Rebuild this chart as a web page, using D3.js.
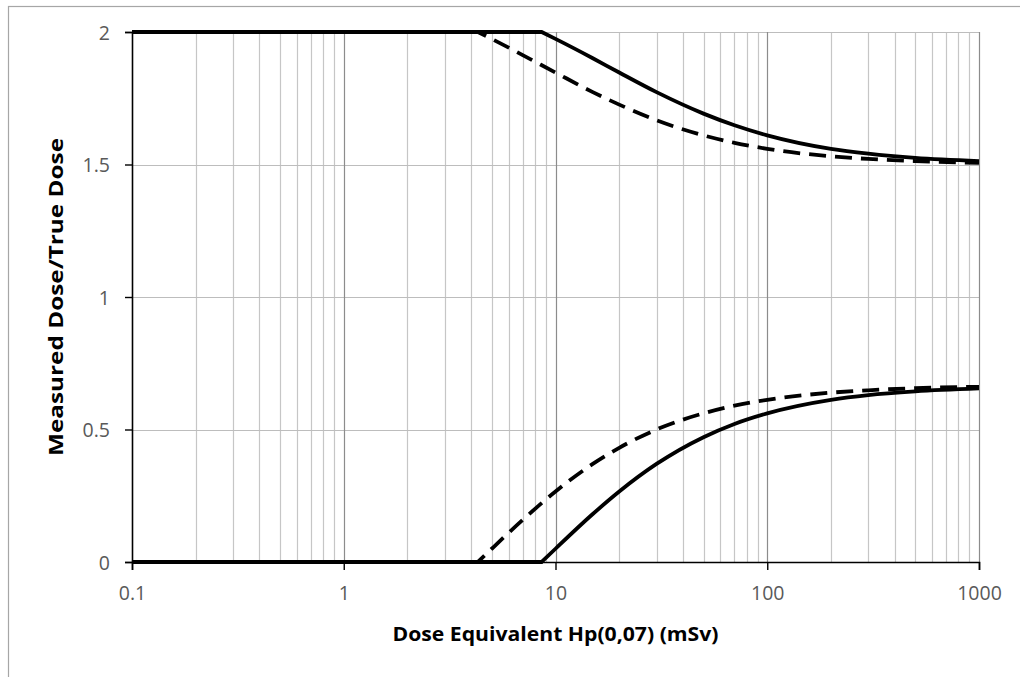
<!DOCTYPE html>
<html>
<head>
    <title>Measured Dose / True Dose</title>
    <style>
        body { margin: 0; background: white; }
        text { font-family: "Open Sans", "Liberation Sans", sans-serif; }
    </style>
    <script src="https://cdn.jsdelivr.net/npm/d3@7"></script>
</head>
<body>
    <div id="chart"></div>
    <script>
        // dose values (mSv), with ratio readings for each curve
        const solidX = [0.1, 8.6, 10, 15, 20, 30, 50, 70, 100, 200, 300, 500, 1000];
        const solidUpper = [2, 2, 1.974, 1.901, 1.847, 1.773, 1.692, 1.648, 1.610, 1.559, 1.541, 1.525, 1.513];
        const solidLower = [0, 0, 0.050, 0.181, 0.266, 0.370, 0.471, 0.521, 0.561, 0.612, 0.630, 0.644, 0.655];

        const dashX = [0.1, 4.3, 5, 7, 10, 15, 20, 30, 50, 70, 100, 200, 300, 500, 1000];
        const dashUpper = [2, 2, 1.974, 1.913, 1.847, 1.773, 1.726, 1.667, 1.610, 1.582, 1.559, 1.531, 1.521, 1.513, 1.506];
        const dashLower = [0, 0, 0.050, 0.159, 0.266, 0.370, 0.431, 0.500, 0.561, 0.590, 0.612, 0.639, 0.648, 0.656, 0.661];

        const xTicks = [0.1, 1, 10, 100, 1000];
        const xTickLabels = ["0.1", "1", "10", "100", "1000"];
        const yTicks = [0, 0.5, 1, 1.5, 2];
        const yTickLabels = ["0", "0.5", "1", "1.5", "2"];

        const W = 1020, H = 677;
        const margin = { top: 32, right: 41, bottom: 115, left: 132 };
        const width = W - margin.left - margin.right,
            height = H - margin.top - margin.bottom;

        const svg = d3.select("#chart").append("svg")
            .attr("width", W)
            .attr("height", H);

        // chart area frame (cut by the picture edges on right and bottom)
        svg.append("rect")
            .attr("x", 8.5).attr("y", 6.5)
            .attr("width", 1040).attr("height", 700)
            .attr("fill", "none")
            .attr("stroke", "#a6a6a6")
            .attr("stroke-width", 1.2);

        const g = svg.append("g")
            .attr("transform", `translate(${margin.left}, ${margin.top})`);

        const x = d3.scaleLog().domain([0.1, 1000]).range([0, width]);
        const y = d3.scaleLinear().domain([0, 2]).range([height, 0]);

        // minor vertical gridlines
        const minor = [];
        for (let d = 0.1; d < 1000; d *= 10) {
            for (let k = 2; k <= 9; k++) minor.push(d * k);
        }
        g.append("g").selectAll("line").data(minor).enter().append("line")
            .attr("x1", d => Math.round(x(d)) + 0.5).attr("x2", d => Math.round(x(d)) + 0.5)
            .attr("y1", 0).attr("y2", height)
            .attr("stroke", "#c6c6c6").attr("stroke-width", 1.2);

        // horizontal gridlines
        g.append("g").selectAll("line").data(yTicks.slice(1)).enter().append("line")
            .attr("x1", 0).attr("x2", width)
            .attr("y1", d => Math.round(y(d)) + 0.5).attr("y2", d => Math.round(y(d)) + 0.5)
            .attr("stroke", "#bdbdbd").attr("stroke-width", 1.2);

        // major (decade) gridlines
        g.append("g").selectAll("line").data(xTicks.slice(1)).enter().append("line")
            .attr("x1", d => Math.round(x(d)) + 0.5).attr("x2", d => Math.round(x(d)) + 0.5)
            .attr("y1", 0).attr("y2", height)
            .attr("stroke", "#8c8c8c").attr("stroke-width", 1.2);

        // axes
        const xAxis = g.append("g")
            .attr("transform", `translate(0, ${height})`)
            .call(d3.axisBottom(x).tickValues(xTicks).tickFormat((d, i) => xTickLabels[i])
                .tickSize(8).tickPadding(16));
        const yAxis = g.append("g")
            .call(d3.axisLeft(y).tickValues(yTicks).tickFormat((d, i) => yTickLabels[i])
                .tickSize(7).tickPadding(15));
        [xAxis, yAxis].forEach(a => {
            a.select(".domain").attr("stroke", "#000").attr("stroke-width", 1.6);
            a.selectAll(".tick line").attr("stroke", "#000").attr("stroke-width", 1.4);
            a.selectAll(".tick text")
                .attr("fill", "#595959")
                .style("font-size", "19.5px")
                .style("font-family", "'Open Sans', sans-serif");
        });
        yAxis.selectAll(".tick text").attr("dy", "0.36em");

        // curves: flat part straight, the rest smoothed from the break point on
        const flat = d3.line().x(d => x(d[0])).y(d => y(d[1]));
        const smooth = d3.line().x(d => x(d[0])).y(d => y(d[1])).curve(d3.curveMonotoneX);

        const series = [
            { xs: solidX, ys: solidUpper, dash: null },
            { xs: solidX, ys: solidLower, dash: null },
            { xs: dashX, ys: dashUpper, dash: "17,9" },
            { xs: dashX, ys: dashLower, dash: "17,9" }
        ];
        series.forEach(s => {
            const pts = s.xs.map((v, i) => [v, s.ys[i]]);
            const a = flat(pts.slice(0, 2));
            const b = smooth(pts.slice(1)).replace(/^M[^CLc]*/, "");
            g.append("path")
                .attr("fill", "none")
                .attr("stroke", "#000")
                .attr("stroke-width", 3.8)
                .attr("stroke-dasharray", s.dash)
                .attr("d", a + b);
        });

        // axis titles
        svg.append("text")
            .attr("x", margin.left + width / 2)
            .attr("y", 641)
            .attr("text-anchor", "middle")
            .attr("font-weight", "bold")
            .attr("font-size", 20)
            .attr("fill", "#000")
            .attr("textLength", 326)
            .attr("lengthAdjust", "spacingAndGlyphs")
            .text("Dose Equivalent Hp(0,07) (mSv)");

        svg.append("text")
            .attr("transform", `translate(63, ${margin.top + height / 2}) rotate(-90)`)
            .attr("text-anchor", "middle")
            .attr("font-weight", "bold")
            .attr("font-size", 20)
            .attr("fill", "#000")
            .attr("textLength", 318)
            .attr("lengthAdjust", "spacingAndGlyphs")
            .text("Measured Dose/True Dose");
    </script>
</body>
</html>
